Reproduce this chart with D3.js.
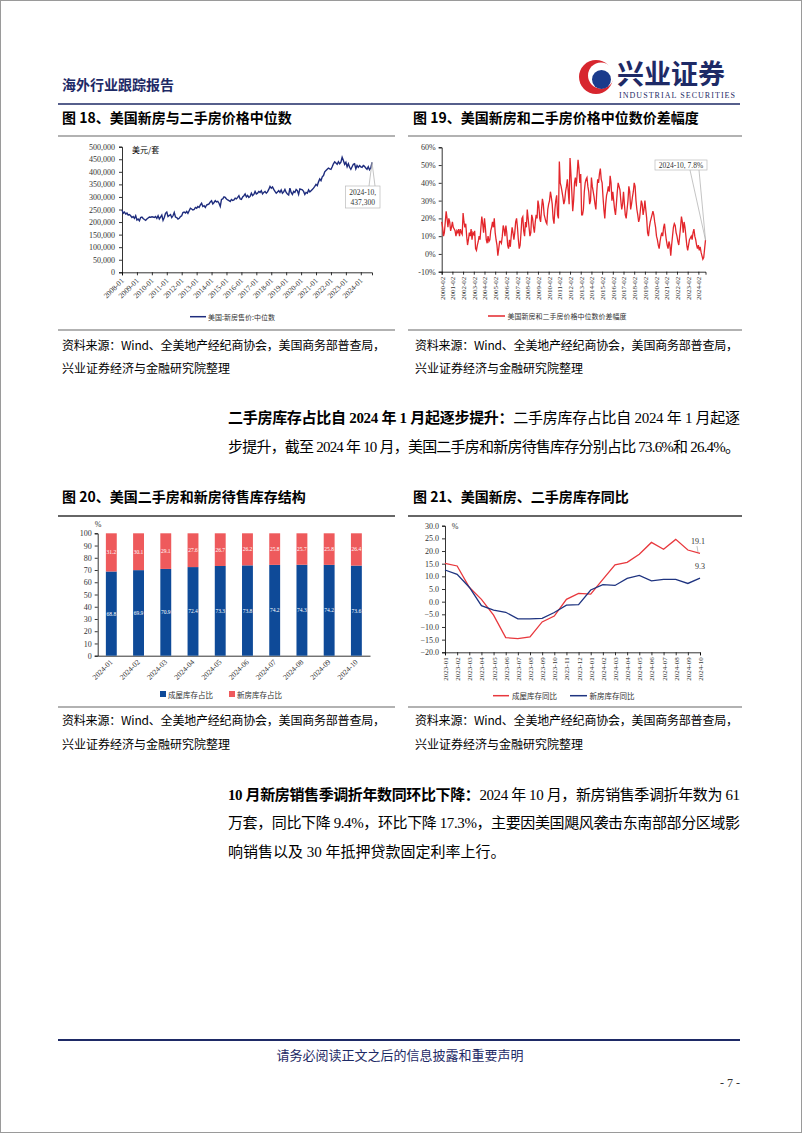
<!DOCTYPE html>
<html><head><meta charset="utf-8">
<script src="https://cdn.jsdelivr.net/npm/d3@7"></script>
<style>body{margin:0;background:#fff}svg{display:block}</style>
</head><body>
<svg id="page" width="802" height="1133"></svg>
<script>
// ---------------- DATA ----------------
// Fig 18: US new home median sales price, monthly 2008-01 .. 2024-10 (USD)
const newHomePrice = [
248000,235000,240000,232000,236000,228000,230000,225000,218000,222000,215000,225000,
208000,212000,205000,218000,220000,214000,210000,207000,212000,216000,220000,219000,
221000,220000,218000,222000,215000,225000,212000,220000,228000,207000,218000,235000,
240000,222000,226000,230000,218000,225000,238000,220000,218000,212000,215000,222000,
225000,238000,240000,236000,242000,235000,245000,255000,252000,248000,250000,258000,
255000,262000,258000,268000,275000,262000,265000,258000,268000,270000,272000,280000,
285000,272000,278000,285000,280000,282000,275000,262000,290000,292000,300000,298000,
292000,288000,285000,282000,290000,286000,288000,295000,292000,298000,305000,292000,
290000,300000,305000,312000,300000,306000,298000,302000,315000,305000,310000,322000,
312000,315000,322000,318000,325000,312000,318000,322000,315000,320000,330000,342000,
335000,340000,330000,322000,315000,320000,325000,318000,328000,315000,320000,330000,
318000,312000,308000,335000,318000,310000,322000,318000,330000,325000,310000,332000,
330000,328000,322000,310000,318000,315000,328000,320000,325000,330000,335000,342000,
350000,345000,360000,372000,365000,380000,385000,400000,405000,410000,415000,412000,
410000,420000,432000,440000,435000,430000,440000,432000,438000,458000,445000,430000,
438000,420000,432000,418000,410000,420000,430000,432000,412000,425000,418000,425000,
420000,418000,425000,422000,415000,410000,420000,408000,415000,437300];
const xLabels18 = ["2008-01","2009-01","2010-01","2011-01","2012-01","2013-01","2014-01","2015-01","2016-01","2017-01","2018-01","2019-01","2020-01","2021-01","2022-01","2023-01","2024-01"];
const yTicks18 = [0,50000,100000,150000,200000,250000,300000,350000,400000,450000,500000];

// Fig 19: new vs existing median price gap (%), monthly 2000-02 .. 2024-10
const priceGap = [
18,15,10,12,18,24,20,15,20,18,13,15,
18,15,14,13,10,13,12,14,10,14,12,11,
23,18,15,17,10,5,8,12,10,14,8,12,
11,13,3,2,5,7,10,8,15,21,17,12,
20,15,8,6,10,7,8,13,15,18,15,20,
12,8,5,-1,3,7,7,6,10,16,14,10,
16,12,5,3,8,4,10,15,12,8,12,18,
20,15,8,3,5,12,20,21,13,10,18,15,
25,20,15,10,12,22,20,15,12,18,22,20,
30,27,20,18,25,31,28,22,20,18,17,25,
28,30,35,32,28,20,17,25,30,33,22,20,
52,40,38,35,32,28,30,35,38,42,35,28,
54,45,35,24,30,40,43,38,45,53,48,40,
45,22,22,25,35,40,42,43,38,35,28,30,
43,38,35,32,28,25,35,42,40,45,48,42,
40,32,25,20,28,33,35,38,35,44,40,30,
35,30,25,22,28,35,40,38,36,30,25,28,
35,28,22,20,25,30,38,35,25,28,32,35,
40,38,30,25,22,18,20,25,30,28,22,25,
30,25,20,12,10,15,18,20,22,24,22,18,
15,10,8,5,3,7,10,12,10,15,17,12,
8,5,3,7,5,-1,5,10,15,17,16,12,
10,7,5,10,15,21,18,12,18,15,10,5,
2,5,8,9,10,8,12,14,10,8,5,3,
5,2,4,1,-1,-3,-2,3,7.8];
const xLabels19 = ["2000-02","2001-02","2002-02","2003-02","2004-02","2005-02","2006-02","2007-02","2008-02","2009-02","2010-02","2011-02","2012-02","2013-02","2014-02","2015-02","2016-02","2017-02","2018-02","2019-02","2020-02","2021-02","2022-02","2023-02","2024-02"];
const yTicks19 = [-10,0,10,20,30,40,50,60];

// Fig 20: inventory structure (%)
const months20 = ["2024-01","2024-02","2024-03","2024-04","2024-05","2024-06","2024-07","2024-08","2024-09","2024-10"];
const existingShare = [68.8,69.9,70.9,72.4,73.3,73.8,74.2,74.3,74.2,73.6];
const newShare = [31.2,30.1,29.1,27.6,26.7,26.2,25.8,25.7,25.8,26.4];
const yTicks20 = [0,10,20,30,40,50,60,70,80,90,100];

// Fig 21: inventory YoY (%)
const months21 = ["2023-01","2023-02","2023-03","2023-04","2023-05","2023-06","2023-07","2023-08","2023-09","2023-10","2023-11","2023-12","2024-01","2024-02","2024-03","2024-04","2024-05","2024-06","2024-07","2024-08","2024-09","2024-10"];
const existingYoY = [15.1,14.1,5.7,0.9,-5.3,-14.2,-14.6,-13.9,-8.0,-5.7,0.9,3.3,3.0,8.8,14.5,15.5,18.7,23.4,20.7,24.6,20.4,19.1];
const newYoY = [12.5,10.8,5.7,-1.6,-3.3,-4.2,-6.8,-6.8,-6.6,-4.3,-1.4,-1.2,4.6,6.7,6.4,9.2,10.4,8.2,8.8,8.8,7.2,9.3];
const yTicks21 = [-20,-15,-10,-5,0,5,10,15,20,25,30];

// ---------------- PAGE ----------------
const CJK = "'Noto Sans CJK SC', sans-serif";
const SERIF = "'Liberation Serif', 'Noto Sans CJK SC', serif";
const NAVY = "#1E2A66";
const svg = d3.select("#page");
svg.append("rect").attr("width",802).attr("height",1133).attr("fill","#fff");
svg.append("rect").attr("x",0.5).attr("y",0.5).attr("width",801).attr("height",1132).attr("fill","none").attr("stroke","#9a9a9a");

function txt(x,y,s,opt={}){
  const t = svg.append("text").attr("x",x).attr("y",y).text(s)
    .attr("font-family",opt.ff||CJK).attr("font-size",opt.fs||12).attr("fill",opt.fill||"#000");
  if(opt.fw) t.attr("font-weight",opt.fw);
  if(opt.anchor) t.attr("text-anchor",opt.anchor);
  if(opt.len) t.attr("textLength",opt.len).attr("lengthAdjust","spacing");
  return t;
}
function hline(x1,x2,y,col,w){svg.append("line").attr("x1",x1).attr("x2",x2).attr("y1",y).attr("y2",y).attr("stroke",col).attr("stroke-width",w);}

// header
txt(62,90,"海外行业跟踪报告",{fs:14,fill:NAVY,fw:"bold"});
svg.append("circle").attr("cx",596).attr("cy",77).attr("r",17).attr("fill","#D7262E");
svg.append("circle").attr("cx",601).attr("cy",75.5).attr("r",13).attr("fill","#fff");
svg.append("circle").attr("cx",601.5).attr("cy",79.5).attr("r",9.5).attr("fill","#1B3B8C");
txt(617,84,"兴业证券",{fs:27,fill:NAVY,fw:"bold"});
txt(619,98,"INDUSTRIAL SECURITIES",{fs:8,ff:SERIF,fill:NAVY,len:116});
hline(58,740,104,NAVY,1.6);

// figure titles
txt(62,123,"图 18、美国新房与二手房价格中位数",{fs:14,fw:"bold"});
txt(413,123,"图 19、美国新房和二手房价格中位数价差幅度",{fs:14,fw:"bold"});
hline(58,395,136,"#999",1.5); hline(408,742,136,"#999",1.5);
hline(58,395,330,"#999",1.5); hline(408,742,330,"#999",1.5);

// sources
txt(62,350,"资料来源：Wind、全美地产经纪商协会，美国商务部普查局，",{fs:12,len:323});
txt(62,373,"兴业证券经济与金融研究院整理",{fs:12});
txt(415,350,"资料来源：Wind、全美地产经纪商协会，美国商务部普查局，",{fs:12,len:323});
txt(415,373,"兴业证券经济与金融研究院整理",{fs:12});

// paragraph 1
{
  const t = svg.append("text").attr("x",228).attr("y",423).attr("font-family",SERIF).attr("font-size",15)
    .attr("textLength",512).attr("lengthAdjust","spacing");
  t.append("tspan").attr("font-weight","bold").text("二手房库存占比自 2024 年 1 月起逐步提升：");
  t.append("tspan").text("二手房库存占比自 2024 年 1 月起逐");
  txt(228,452,"步提升，截至 2024 年 10 月，美国二手房和新房待售库存分别占比 73.6%和 26.4%。",{fs:15,ff:SERIF,len:512});
}

// fig titles 20/21
txt(62,502,"图 20、美国二手房和新房待售库存结构",{fs:14,fw:"bold"});
txt(413,502,"图 21、美国新房、二手房库存同比",{fs:14,fw:"bold"});
hline(58,395,516,"#333",1.5); hline(408,742,516,"#333",1.5);
hline(58,395,707,"#999",1.5); hline(408,742,707,"#999",1.5);
txt(62,725,"资料来源：Wind、全美地产经纪商协会，美国商务部普查局，",{fs:12,len:323});
txt(62,749,"兴业证券经济与金融研究院整理",{fs:12});
txt(415,725,"资料来源：Wind、全美地产经纪商协会，美国商务部普查局，",{fs:12,len:323});
txt(415,749,"兴业证券经济与金融研究院整理",{fs:12});

// paragraph 2
{
  const t = svg.append("text").attr("x",228).attr("y",800).attr("font-family",SERIF).attr("font-size",15)
    .attr("textLength",512).attr("lengthAdjust","spacing");
  t.append("tspan").attr("font-weight","bold").text("10 月新房销售季调折年数同环比下降：");
  t.append("tspan").text("2024 年 10 月，新房销售季调折年数为 61");
  txt(228,828,"万套，同比下降 9.4%，环比下降 17.3%，主要因美国飓风袭击东南部部分区域影",{fs:15,ff:SERIF,len:512});
  txt(228,857,"响销售以及 30 年抵押贷款固定利率上行。",{fs:15,ff:SERIF});
}

// footer
hline(58,740,1040,NAVY,1.8);
txt(400,1060,"请务必阅读正文之后的信息披露和重要声明",{fs:13,fill:NAVY,anchor:"middle"});
txt(740,1087,"- 7 -",{fs:12,ff:SERIF,fill:"#333",anchor:"end"});

function styleAxis(g,fs){
  g.select(".domain").attr("stroke","#000").attr("stroke-width",0.8);
  g.selectAll(".tick line").attr("stroke","#000").attr("stroke-width",0.8);
  g.selectAll("text").attr("font-family",SERIF).attr("font-size",fs).attr("fill","#333");
}
function rotLabels(g,deg,off){
  g.selectAll("text").attr("y",0).attr("dy","0.35em").attr("text-anchor","end")
    .attr("transform",`translate(0,${off}) rotate(${deg})`);
}

// ---------------- Fig 18 ----------------
{
  const x = d3.scaleLinear().domain([0,newHomePrice.length-1]).range([122,372]);
  const y = d3.scaleLinear().domain([0,500000]).range([272.3,146.7]);
  const gy = svg.append("g").attr("transform","translate(122,0)")
    .call(d3.axisLeft(y).tickValues(yTicks18).tickFormat(d3.format(",")).tickSize(3).tickPadding(4));
  styleAxis(gy,8);
  const gx = svg.append("g").attr("transform","translate(0,272.3)")
    .call(d3.axisBottom(x).tickValues(xLabels18.map((d,i)=>i*12)).tickFormat((d,i)=>xLabels18[i]).tickSize(3));
  styleAxis(gx,7.5); rotLabels(gx,-45,7);
  svg.append("path").datum(newHomePrice).attr("fill","none").attr("stroke","#1E2C7D").attr("stroke-width",1.4)
    .attr("d",d3.line().x((d,i)=>x(i)).y(d=>y(d)));
  txt(132,153,"美元/套",{fs:8});
  const li = newHomePrice.length-1, px = x(li), py = y(newHomePrice[li]);
  svg.append("path").attr("d",`M${px-3},186 L${px},${py} L${px+3},186`).attr("fill","none").attr("stroke","#aaa").attr("stroke-width",0.7);
  svg.append("rect").attr("x",345.5).attr("y",186).attr("width",34.5).attr("height",22).attr("fill","#fff").attr("stroke","#bbb").attr("stroke-width",0.7);
  txt(362.7,195,"2024-10,",{fs:7.5,ff:SERIF,anchor:"middle",fill:"#333"});
  txt(362.7,205,d3.format(",")(newHomePrice[li]),{fs:7.5,ff:SERIF,anchor:"middle",fill:"#333"});
  svg.append("line").attr("x1",190).attr("x2",206).attr("y1",316.7).attr("y2",316.7).attr("stroke","#1E2C7D").attr("stroke-width",1.5);
  txt(208,319.5,"美国:新房售价:中位数",{fs:7,fill:"#333"});
}

// ---------------- Fig 19 ----------------
{
  const x = d3.scaleLinear().domain([0,priceGap.length-1]).range([441.7,705.5]);
  const y = d3.scaleLinear().domain([-10,60]).range([271.7,147.3]);
  const gy = svg.append("g").attr("transform","translate(441.7,0)")
    .call(d3.axisLeft(y).tickValues(yTicks19).tickFormat(d=>d+"%").tickSize(3).tickPadding(3));
  styleAxis(gy,8);
  const gx = svg.append("g").attr("transform","translate(0,271.7)")
    .call(d3.axisBottom(x).tickValues(xLabels19.map((d,i)=>i*12)).tickFormat((d,i)=>xLabels19[i]).tickSize(3));
  styleAxis(gx,7); rotLabels(gx,-90,5);
  svg.append("path").datum(priceGap).attr("fill","none").attr("stroke","#E3262B").attr("stroke-width",1.3)
    .attr("d",d3.line().x((d,i)=>x(i)).y(d=>y(d)));
  const li = priceGap.length-1, px = x(li), py = y(priceGap[li]);
  svg.append("path").attr("d",`M690,170 L${px},${py} L699,170`).attr("fill","none").attr("stroke","#aaa").attr("stroke-width",0.7);
  svg.append("rect").attr("x",655).attr("y",160).attr("width",52).attr("height",10).attr("fill","#fff").attr("stroke","#bbb").attr("stroke-width",0.7);
  txt(681,167.8,"2024-10, "+priceGap[li]+"%",{fs:7.5,ff:SERIF,anchor:"middle",fill:"#333"});
  svg.append("line").attr("x1",488).attr("x2",505).attr("y1",316).attr("y2",316).attr("stroke","#E3262B").attr("stroke-width",1.5);
  txt(507.5,318.8,"美国新房和二手房价格中位数价差幅度",{fs:7,fill:"#333"});
}

// ---------------- Fig 20 ----------------
{
  const x = d3.scaleBand().domain(months20).range([97.7,370]).paddingInner(0.6).paddingOuter(0.3);
  const y = d3.scaleLinear().domain([0,100]).range([655.7,533.3]);
  const BLUE = "#0E4A98", RED = "#EE5A5C";
  const gy = svg.append("g").attr("transform","translate(97.7,0)")
    .call(d3.axisLeft(y).tickValues(yTicks20).tickSize(3).tickPadding(3));
  styleAxis(gy,8);
  const gx = svg.append("g").attr("transform","translate(0,655.7)")
    .call(d3.axisBottom(x).tickSize(0));
  styleAxis(gx,7.5); rotLabels(gx,-45,5);
  months20.forEach((m,i)=>{
    const bx = x(m), bw = x.bandwidth();
    svg.append("rect").attr("x",bx).attr("width",bw).attr("y",y(existingShare[i])).attr("height",y(0)-y(existingShare[i])).attr("fill",BLUE);
    svg.append("rect").attr("x",bx).attr("width",bw).attr("y",y(100)).attr("height",y(existingShare[i])-y(100)).attr("fill",RED);
    txt(bx+bw/2,y(existingShare[i]/2)+2,existingShare[i].toFixed(1),{fs:5.5,ff:SERIF,fill:"#fff",anchor:"middle"});
    txt(bx+bw/2,y(existingShare[i]+newShare[i]/2)+2,newShare[i].toFixed(1),{fs:5.5,ff:SERIF,fill:"#fff",anchor:"middle"});
  });
  txt(98,527,"%",{fs:8,ff:SERIF,fill:"#333",anchor:"middle"});
  svg.append("rect").attr("x",160).attr("y",691).attr("width",6).attr("height",6).attr("fill",BLUE);
  txt(168,697.5,"成屋库存占比",{fs:7.5,fill:"#333"});
  svg.append("rect").attr("x",229).attr("y",691).attr("width",6).attr("height",6).attr("fill",RED);
  txt(237,697.5,"新房库存占比",{fs:7.5,fill:"#333"});
}

// ---------------- Fig 21 ----------------
{
  const x = d3.scalePoint().domain(months21).range([445,700]);
  const y = d3.scaleLinear().domain([-20,30]).range([652.3,525.7]);
  const R = "#E8383D", B = "#1F3480";
  const gy = svg.append("g").attr("transform","translate(445,0)")
    .call(d3.axisLeft(y).tickValues(yTicks21).tickFormat(d3.format(".1f")).tickSize(3).tickPadding(3));
  styleAxis(gy,8);
  const gx = svg.append("g").attr("transform","translate(0,652.3)")
    .call(d3.axisBottom(x).tickSize(3));
  styleAxis(gx,7); rotLabels(gx,-90,5);
  const line = d3.line().x((d,i)=>x(months21[i])).y(d=>y(d));
  svg.append("path").datum(existingYoY).attr("fill","none").attr("stroke",R).attr("stroke-width",1.3).attr("d",line);
  svg.append("path").datum(newYoY).attr("fill","none").attr("stroke",B).attr("stroke-width",1.3).attr("d",line);
  txt(455,529,"%",{fs:8,ff:SERIF,fill:"#333",anchor:"middle"});
  const lx = x(months21[months21.length-1]);
  svg.append("line").attr("x1",lx-2).attr("y1",y(existingYoY[existingYoY.length-1])-1).attr("x2",lx-3).attr("y2",546).attr("stroke","#999").attr("stroke-width",0.6);
  txt(lx-2,544,existingYoY[existingYoY.length-1].toFixed(1),{fs:8,ff:SERIF,fill:"#333",anchor:"middle"});
  txt(lx,569,newYoY[newYoY.length-1].toFixed(1),{fs:8,ff:SERIF,fill:"#333",anchor:"middle"});
  svg.append("line").attr("x1",493).attr("x2",509).attr("y1",695.7).attr("y2",695.7).attr("stroke",R).attr("stroke-width",1.5);
  txt(512,698.5,"成屋库存同比",{fs:7.5,fill:"#333"});
  svg.append("line").attr("x1",570).attr("x2",587).attr("y1",695.7).attr("y2",695.7).attr("stroke",B).attr("stroke-width",1.5);
  txt(589.5,698.5,"新房库存同比",{fs:7.5,fill:"#333"});
}
</script>
</body></html>
